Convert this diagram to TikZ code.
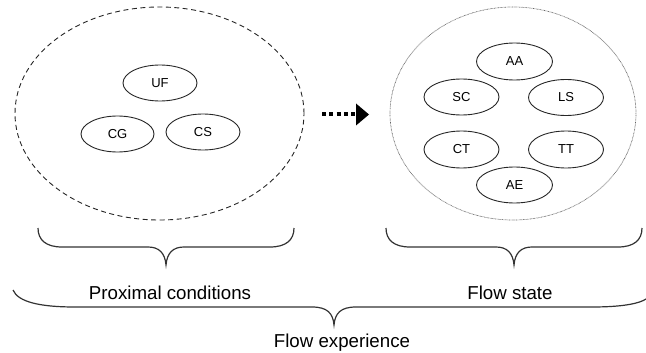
\documentclass[tikz,border=0pt]{standalone}
\usepackage{fontspec}
\setmainfont{Liberation Sans}
\usetikzlibrary{shapes.geometric}
\begin{document}
\begin{tikzpicture}[x=1pt,y=-1pt,
  inner/.style={draw=black!85, line width=0.9pt, ellipse, inner sep=0pt, minimum width=74pt, minimum height=36pt, font=\fontsize{13}{15}\selectfont},
  bracestyle/.style={draw=black!80, line width=1.2pt},
  lbl/.style={anchor=base, inner sep=0pt, font=\fontsize{18.7}{22}\selectfont}]
\useasboundingbox (0,0) rectangle (646,353);
% outer groups
\node[draw=black!85, line width=0.9pt, dash pattern=on 5pt off 3.5pt, ellipse, minimum width=289pt, minimum height=213pt, inner sep=0pt] (prox) at (159.5,113.5) {};
\node[draw=black!60, line width=0.7pt, dash pattern=on 0.7pt off 0.7pt, ellipse, minimum width=246pt, minimum height=213pt, inner sep=0pt] (flow) at (513,113.5) {};
% proximal conditions
\node[inner] (UF) at (160,83) {UF};
\node[inner, minimum width=73pt] (CG) at (117.5,134) {CG};
\node[inner] (CS) at (203,132) {CS};
% flow state
\node[inner, minimum width=76pt, minimum height=37pt] (AA) at (514.5,61.5) {AA};
\node[inner, minimum width=75pt] (SC) at (461.5,97) {SC};
\node[inner, minimum width=75pt] (LS) at (566,97.5) {LS};
\node[inner, minimum width=75pt, minimum height=37pt] (CT) at (461.5,149.5) {CT};
\node[inner, minimum width=75pt, minimum height=37pt] (TT) at (566,149.5) {TT};
\node[inner, minimum width=76pt] (AE) at (514.5,185) {AE};
% arrow
\coordinate (arrS) at (322,114.5);
\coordinate (arrE) at (356,114.5);
\draw[line width=4pt, dash pattern=on 4pt off 3.3pt, black] (arrS) -- (arrE);
\fill[black] (arrE) ++(0,-11) -- ++(13,11) -- ++(-13,11) -- cycle;
% braces
\draw[bracestyle] (38,228) .. controls (38,240) and (46,247) .. (62,247) -- (148,247)
  .. controls (159,247) and (165,253) .. (166,265)
  .. controls (167,253) and (173,247) .. (184,247) -- (270,247)
  .. controls (286,247) and (294,240) .. (294,228);
\draw[bracestyle] (386,228) .. controls (386,240) and (394,247) .. (410,247) -- (496,247)
  .. controls (507,247) and (513,253) .. (514,265)
  .. controls (515,253) and (521,247) .. (532,247) -- (618,247)
  .. controls (634,247) and (642,240) .. (642,228);
\draw[bracestyle] (13,290) .. controls (18,302) and (40,307) .. (75,307) -- (312,307)
  .. controls (327,307) and (333,313) .. (334,325)
  .. controls (335,313) and (341,307) .. (356,307) -- (592,307)
  .. controls (625,307) and (640,303) .. (646,299);
% labels
\node[lbl] (plbl) at (170,299) {Proximal conditions};
\node[lbl] (flbl) at (510,299) {Flow state};
\node[lbl] (elbl) at (342,347) {Flow experience};
\end{tikzpicture}
\end{document}
